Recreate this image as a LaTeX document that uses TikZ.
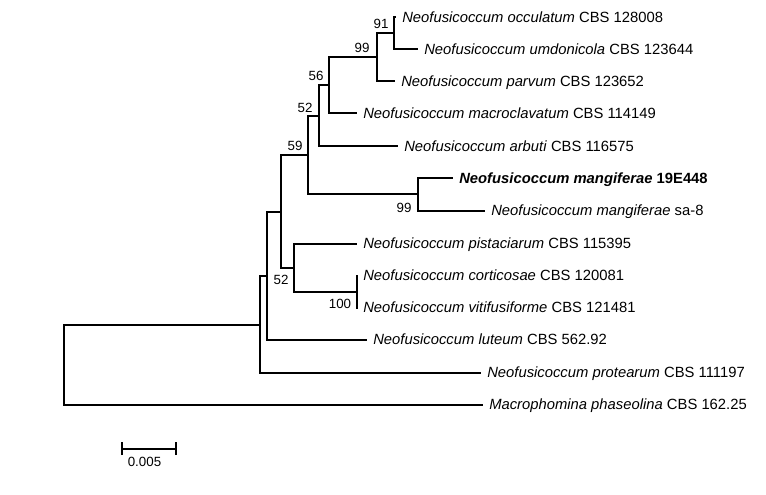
\documentclass[tikz,border=0pt]{standalone}
\usepackage{fontspec}
\setmainfont{Liberation Sans}
\begin{document}
\begin{tikzpicture}[x=0.75pt,y=-0.75pt,
  br/.style={line width=1.5pt, line join=miter},
  taxon/.style={anchor=west, inner xsep=4.5pt, inner ysep=0pt, text height=7.9pt, text depth=0pt, font=\fontsize{11.1}{13}\selectfont},
  boot/.style={inner sep=0pt, text height=7.1pt, text depth=0pt, font=\fontsize{10}{11}\selectfont}
]
\useasboundingbox (0,0) rectangle (766,495);
% internal nodes
\coordinate (root) at (63.5,364.5);
\coordinate (nA) at (259.5,324.5);
\coordinate (nF) at (266.5,275.5);
\coordinate (nE) at (280.5,211.5);
\coordinate (n59) at (307.5,155.5);
\coordinate (n52a) at (318.5,116.5);
\coordinate (n56) at (328.5,85.5);
\coordinate (n99a) at (376.5,57.5);
\coordinate (n91) at (393.5,33.5);
\coordinate (n99b) at (417.5,194.5);
\coordinate (n52b) at (293.5,267.5);
\coordinate (n100) at (356.5,291.5);
% leaves
\node[taxon] (L1) at (396,17.5) {\textit{Neofusicoccum occulatum} CBS 128008};
\node[taxon] (L2) at (418,49.5) {\textit{Neofusicoccum umdonicola} CBS 123644};
\node[taxon] (L3) at (395,81.5) {\textit{Neofusicoccum parvum} CBS 123652};
\node[taxon] (L4) at (357,113.5) {\textit{Neofusicoccum macroclavatum} CBS 114149};
\node[taxon] (L5) at (398,146.5) {\textit{Neofusicoccum arbuti} CBS 116575};
\node[taxon] (L6) at (453,178.5) {\bfseries\textit{Neofusicoccum mangiferae} 19E448};
\node[taxon] (L7) at (485,210.5) {\textit{Neofusicoccum mangiferae} sa-8};
\node[taxon] (L8) at (357,243.5) {\textit{Neofusicoccum pistaciarum} CBS 115395};
\node[taxon] (L9) at (357,275.5) {\textit{Neofusicoccum corticosae} CBS 120081};
\node[taxon] (L10) at (357,307.5) {\textit{Neofusicoccum vitifusiforme} CBS 121481};
\node[taxon] (L11) at (367,339.5) {\textit{Neofusicoccum luteum} CBS 562.92};
\node[taxon] (L12) at (481,372.5) {\textit{Neofusicoccum protearum} CBS 111197};
\node[taxon] (L13) at (483,404.5) {\textit{Macrophomina phaseolina} CBS 162.25};
% branches
\draw[br] (root) |- (nA);
\draw[br] (root) |- (L13.west);
\draw[br] (nA) |- (nF);
\draw[br] (nA) |- (L12.west);
\draw[br] (nF) |- (nE);
\draw[br] (nF) |- (L11.west);
\draw[br] (nE) |- (n59);
\draw[br] (nE) |- (n52b);
\draw[br] (n59) |- (n52a);
\draw[br] (n59) |- (n99b);
\draw[br] (n52a) |- (n56);
\draw[br] (n52a) |- (L5.west);
\draw[br] (n56) |- (n99a);
\draw[br] (n56) |- (L4.west);
\draw[br] (n99a) |- (n91);
\draw[br] (n99a) |- (L3.west);
\draw[br] (n91) |- (L1.west);
\draw[br] (n91) |- (L2.west);
\draw[br] (n99b) |- (L6.west);
\draw[br] (n99b) |- (L7.west);
\draw[br] (n52b) |- (L8.west);
\draw[br] (n52b) |- (n100);
\draw[br] (n100) |- (L9.west);
\draw[br] (n100) |- (L10.west);
% bootstrap values
\node[boot] (b91) at (381,24) {91};
\node[boot] (b99a) at (362,48) {99};
\node[boot] (b56) at (316,76) {56};
\node[boot] (b52a) at (305,107.5) {52};
\node[boot] (b59) at (295,145.5) {59};
\node[boot] (b99b) at (404,208) {99};
\node[boot] (b52b) at (281,280) {52};
\node[boot] (b100) at (340,304) {100};
% scale bar
\coordinate (sbL) at (121.5,448.5);
\coordinate (sbR) at (175.5,448.5);
\draw[br] (sbL) -- (sbR);
\draw[br] ([yshift=-5]sbL) -- ([yshift=5]sbL);
\draw[br] ([yshift=-5]sbR) -- ([yshift=5]sbR);
\node[boot] (sbt) at (144.5,461.5) {0.005};
\end{tikzpicture}
\end{document}
